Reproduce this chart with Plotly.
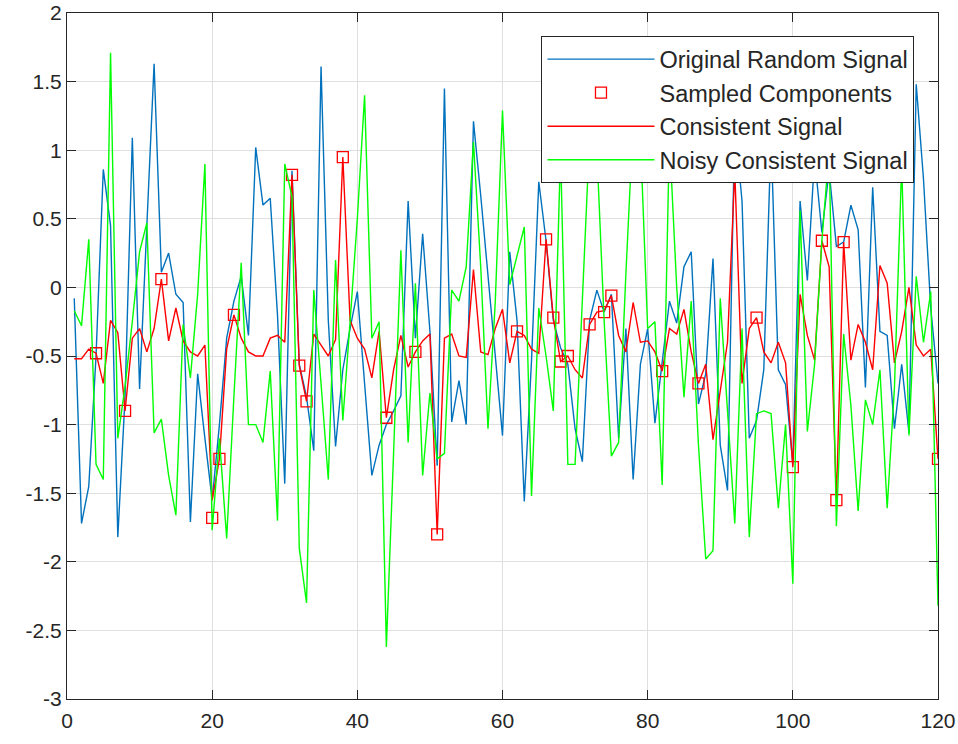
import plotly.graph_objects as go

x_idx = list(range(1, 121))

original = [
    -0.08, -1.72, -1.45, -0.50, 0.86, 0.45, -1.82, -0.80, 1.09, -0.74,
    0.45, 1.63, 0.11, 0.25, -0.05, -0.11, -1.71, -0.63, -1.10, -1.55,
    -1.00, -0.37, -0.10, 0.08, -0.35, 1.02, 0.60, 0.65, -0.20, -1.43,
    0.85, -0.56, -0.80, -1.19, 1.61, -0.24, -1.16, -0.60, -0.30, -0.03,
    -0.70, -1.37, -1.15, -1.00, -0.90, -0.79, 0.63, -0.37, 0.39, -0.32,
    -1.30, 1.45, -0.98, -0.68, -1.00, 1.21, 0.67, 0.08, -0.53, -1.08,
    0.26, -0.24, -1.56, -0.53, 0.77, 0.34, -0.24, -0.44, -0.56, -1.03,
    -1.27, -0.24, -0.02, -0.18, -0.05, -1.10, -0.30, -1.40, -0.56, -0.30,
    -0.99, -0.56, -0.10, -0.26, 0.15, 0.26, -0.85, -0.63, 0.21, -1.15,
    -1.48, 1.20, 0.63, -1.10, -0.97, -0.60, 1.10, -0.60, -0.71, -1.29,
    0.63, 0.05, 0.95, 0.40, 0.85, 0.30, 0.33, 0.60, 0.42, -0.73,
    0.73, -0.32, -0.35, -1.03, -0.56, -1.06, 1.48, 0.79, -0.15, -0.70,
]

consistent = [
    -0.52, -0.52, -0.45, -0.48, -0.70, -0.24, -0.33, -0.90, -0.37, -0.30,
    -0.47, -0.30, 0.06, -0.39, -0.15, -0.39, -0.47, -0.50, -0.42, -1.55,
    -1.25, -0.45, -0.20, -0.37, -0.47, -0.50, -0.50, -0.37, -0.35, -0.40,
    0.82, -0.57, -0.83, -0.34, -0.42, -0.50, -0.38, 0.95, -0.24, -0.37,
    -0.45, -0.66, -0.32, -0.95, -0.60, -0.35, -0.58, -0.47, -0.39, -0.34,
    -1.80, -0.37, -0.34, -0.50, -0.51, 0.13, -0.47, -0.49, -0.30, -0.16,
    -0.55, -0.32, -0.35, -0.45, -0.48, 0.35, -0.22, -0.54, -0.50, -0.60,
    -0.66, -0.27, -0.18, -0.17, -0.06, -0.35, -0.47, -0.11, -0.40, -0.39,
    -0.47, -0.61, -0.30, -0.34, -0.16, -0.47, -0.70, -0.56, -1.11, -0.75,
    -0.40, 0.85, -0.70, -0.30, -0.22, -0.47, -0.55, -0.40, -0.55, -1.31,
    -0.05, -0.35, -0.53, 0.34, 0.15, -1.55, 0.33, -0.53, -0.27, -0.40,
    -0.60, 0.16, 0.03, -0.55, -0.32, 0.00, -0.42, -0.50, -0.45, -1.25,
]

noisy = [
    -0.17, -0.28, 0.35, -1.29, -1.40, 1.71, -1.10, -0.72, -0.25, 0.26,
    0.47, -1.06, -0.96, -1.37, -1.66, -0.27, -0.66, -0.05, 0.90, -1.77,
    -1.10, -1.83, -0.79, 0.18, -1.00, -1.00, -1.13, -0.61, -1.70, 0.90,
    0.66, -1.90, -2.30, -0.02, -0.70, -1.40, 0.20, -0.97, -0.25, 0.50,
    1.40, -0.37, -0.25, -2.62, -1.20, 0.27, -1.13, 0.03, -1.37, -0.77,
    -1.25, -1.21, -0.02, -0.10, 0.15, 1.06, 0.15, -1.03, -0.11, 1.29,
    0.02, 0.23, 0.44, -1.52, -0.15, -0.50, -0.90, 1.00, -1.29, -1.29,
    -0.08, 1.10, 1.00, -0.24, -1.23, -1.13, 0.10, 1.20, 1.10, -0.30,
    -0.25, -1.44, 1.10, 0.00, -0.80, -0.10, -1.15, -1.98, -1.92, -0.08,
    -0.90, -1.72, -0.30, -1.82, -0.92, -0.90, -0.92, -1.61, -1.00, -2.16,
    0.56, -1.05, -0.56, 0.34, 1.00, -1.74, -0.34, -0.86, -1.63, -0.82,
    -1.00, -0.60, -1.61, -0.73, 0.90, -1.08, 0.08, -0.40, -0.03, -2.32,
]

sample_idx = [4, 8, 13, 20, 21, 23, 31, 32, 33, 38, 44, 48, 51, 62, 66, 67,
              68, 69, 72, 74, 75, 82, 87, 95, 100, 104, 106, 107, 120]
sample_val = [-0.48, -0.90, 0.06, -1.68, -1.25, -0.20, 0.82, -0.57, -0.83, 0.95,
              -0.95, -0.47, -1.80, -0.32, 0.35, -0.22, -0.54, -0.50, -0.27, -0.18,
              -0.06, -0.61, -0.70, -0.22, -1.31, 0.34, -1.55, 0.33, -1.25]

x_ticks = [0, 20, 40, 60, 80, 100, 120]
y_ticks = [-3, -2.5, -2, -1.5, -1, -0.5, 0, 0.5, 1, 1.5, 2]
y_tick_text = ["-3", "-2.5", "-2", "-1.5", "-1", "-0.5", "0", "0.5", "1", "1.5", "2"]

fig = go.Figure()
fig.add_trace(go.Scatter(x=x_idx, y=original, mode="lines", name="Original Random Signal",
                         line=dict(color="#0072BD", width=1.4)))
fig.add_trace(go.Scatter(x=sample_idx, y=sample_val, mode="markers", name="Sampled Components",
                         marker=dict(symbol="square-open", color="#FF0000", size=11,
                                     line=dict(width=1.3, color="#FF0000"))))
fig.add_trace(go.Scatter(x=x_idx, y=consistent, mode="lines", name="Consistent Signal",
                         line=dict(color="#FF0000", width=1.4)))
fig.add_trace(go.Scatter(x=x_idx, y=noisy, mode="lines", name="Noisy Consistent Signal",
                         line=dict(color="#00FF00", width=1.4)))

axis_common = dict(
    showline=True, linecolor="#262626", linewidth=1, mirror="ticks",
    ticks="inside", ticklen=9, tickcolor="#262626",
    showgrid=True, gridcolor="#DFDFDF", gridwidth=1,
    zeroline=False, automargin=False,
    tickfont=dict(family="Arial", size=21, color="#262626"),
)

fig.update_layout(
    width=958, height=744,
    margin=dict(l=67, r=20, t=13, b=45, autoexpand=False),
    paper_bgcolor="white", plot_bgcolor="white",
    xaxis=dict(range=[0, 120], tickvals=x_ticks, ticklabelstandoff=3, **axis_common),
    yaxis=dict(range=[-3, 2], tickvals=y_ticks, ticktext=y_tick_text, **axis_common),
    legend=dict(
        x=0.973, y=0.966, xanchor="right", yanchor="top",
        bgcolor="white", bordercolor="#262626", borderwidth=1,
        font=dict(family="Arial", size=23.5, color="#262626"),
        tracegroupgap=0, itemwidth=107,
    ),
    showlegend=True,
)

fig.write_html("out.html")
